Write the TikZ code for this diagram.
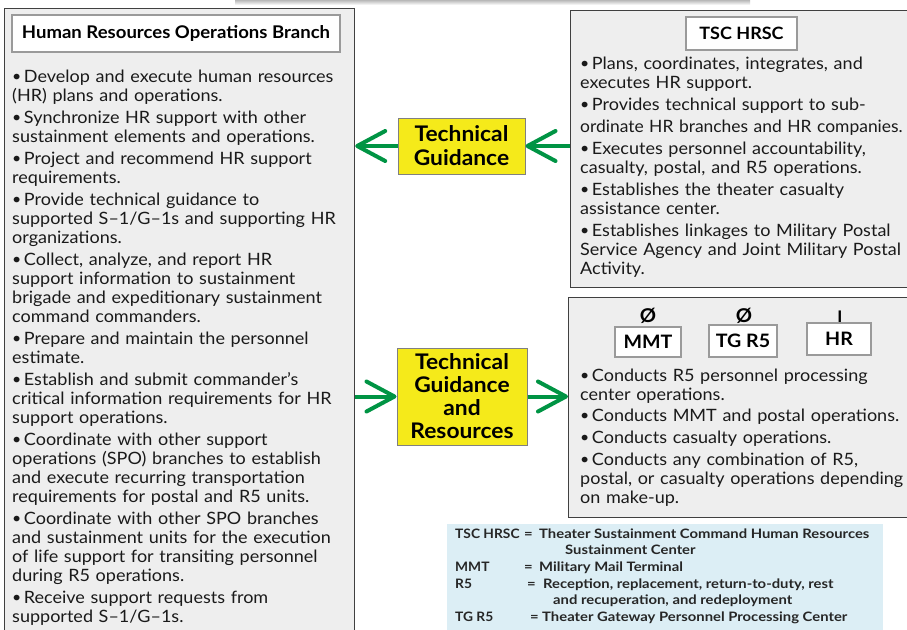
\documentclass[tikz,border=0pt]{standalone}
\usepackage{fontspec}
\usepackage{graphicx}
\setmainfont{Lato}[FakeStretch=1.06]
\newfontfamily\legfont{Lato}[FakeStretch=1.14]
\usetikzlibrary{arrows.meta}
\definecolor{panelfill}{HTML}{EEEEEE}
\definecolor{gline}{HTML}{009444}
\definecolor{yel}{HTML}{F5EA1A}
\definecolor{legendbg}{HTML}{DCEEF5}
\definecolor{boxgray}{HTML}{9A9A9A}
\definecolor{txt}{HTML}{1A1A1A}
\newcommand{\bul}{\raisebox{1.5pt}{\fontsize{15}{15}\selectfont\textbullet}\hspace{2.5pt}}
\tikzset{
  panel/.style={draw=black!75, line width=1.2pt, fill=panelfill, anchor=north west, inner sep=0pt},
  titlebox/.style={draw=boxgray, line width=1.5pt, fill=white, inner sep=0pt, font=\fontsize{17.5}{18}\selectfont\bfseries},
  unitbox/.style={draw=boxgray, line width=1.2pt, fill=white, inner sep=0pt, font=\fontsize{18.5}{19}\selectfont\bfseries},
  yelbox/.style={draw=gray, line width=1pt, fill=yel, inner sep=0pt, align=center},
  bodytext/.style={anchor=north west, inner sep=0pt, align=left, text=txt, font=\fontsize{17}{19}\selectfont},
  legtext/.style={anchor=base west, inner sep=0pt, text=black!85, font=\legfont\fontsize{13}{14}\selectfont\bfseries},
  legterm/.style={anchor=base west, inner sep=0pt, text=black!85, font=\fontsize{13}{14}\selectfont\bfseries},
  sym/.style={inner sep=0pt, font=\fontsize{19}{19}\selectfont\bfseries},
  garrow/.style={draw=gline, line width=4pt, -{Straight Barb[length=28pt,width=30pt,round]}}
}
\begin{document}
\begin{tikzpicture}[x=1pt,y=-1pt]
\useasboundingbox (0,0) rectangle (907,629);
\fill[white] (0,0) rectangle (907,629);
\fill[top color=black!28, bottom color=white] (235,0) rectangle (750,5);

% panels
\node[panel, minimum width=350, minimum height=640] (hrob) at (4,8) {};
\node[panel, minimum width=360, minimum height=277] (tsc) at (570,10) {};
\node[panel, minimum width=360, minimum height=220] (unit) at (568,297) {};
\node[anchor=north west, fill=legendbg, inner sep=0pt, minimum width=436, minimum height=120] (legend) at (447,524) {};

% titles
\node[titlebox, minimum width=328, minimum height=37] (hrtitle) at (176,33.5) {Human Resources Operations Branch};
\node[titlebox, minimum width=111, minimum height=33, font=\fontsize{17}{18}\selectfont\bfseries] (tsctitle) at (741.5,33.5) {TSC HRSC};

% unit boxes
\node[unitbox, minimum width=66, minimum height=30] (mmt) at (648,342) {MMT};
\node[unitbox, minimum width=68, minimum height=32] (tgr) at (743,341) {TG R5};
\node[unitbox, minimum width=64, minimum height=32] (hr) at (839,339) {HR};
\node[sym] (s1) at (648,316) {Ø};
\node[sym] (s2) at (744,316) {Ø};
\node[sym, font=\fontsize{16}{16}\selectfont\bfseries] (s3) at (840,317) {I};

% body text
\node[bodytext, text width=345] (lt) at (12,70) {%
\bul Develop and execute human resources\\
(HR) plans and operations.\\[3pt]
\bul Synchronize HR support with other\\
sustainment elements and operations.\\[3pt]
\bul Project and recommend HR support\\
requirements.\\[3pt]
\bul Provide technical guidance to\\
supported S–1/G–1s and supporting HR\\
organizations.\\[3pt]
\bul Collect, analyze, and report HR\\
support information to sustainment\\
brigade and expeditionary sustainment\\
command commanders.\\[3pt]
\bul Prepare and maintain the personnel\\
estimate.\\[3pt]
\bul Establish and submit commander’s\\
critical information requirements for HR\\
support operations.\\[3pt]
\bul Coordinate with other support\\
operations (SPO) branches to establish\\
and execute recurring transportation\\
requirements for postal and R5 units.\\[3pt]
\bul Coordinate with other SPO branches\\
and sustainment units for the execution\\
of life support for transiting personnel\\
during R5 operations.\\[3pt]
\bul Receive support requests from\\
supported S–1/G–1s.};

\node[bodytext, text width=330] (rt) at (580,57) {%
\bul Plans, coordinates, integrates, and\\
executes HR support.\\[3pt]
\bul Provides technical support to sub-\\[3pt]
\scalebox{0.968}[1]{ordinate HR branches and HR companies.}\\[3pt]
\bul Executes personnel accountability,\\
casualty, postal, and R5 operations.\\[3pt]
\bul Establishes the theater casualty\\
assistance center.\\[3pt]
\bul Establishes linkages to Military Postal\\
Service Agency and Joint Military Postal\\
Activity.};

\node[bodytext, text width=340] (rb) at (580,369) {%
\bul Conducts R5 personnel processing\\
center operations.\\[2pt]
\bul Conducts MMT and postal operations.\\[3pt]
\bul Conducts casualty operations.\\[3pt]
\bul Conducts any combination of R5,\\
postal, or casualty operations depending\\
on make-up.};

% yellow boxes
\node[yelbox, minimum width=127, minimum height=56, font=\fontsize{21.5}{24}\selectfont\bfseries] (tg1) at (461.5,146) {Technical\\Guidance};
\node[yelbox, minimum width=130, minimum height=97, font=\fontsize{21.5}{23}\selectfont\bfseries] (tg2) at (462,396.5) {Technical\\Guidance\\and\\Resources};

% arrows
\draw[garrow] (tsc.west |- tg1.east) -- (tg1.east);
\draw[garrow] (tg1.west) -- (hrob.east |- tg1.west);
\draw[garrow] (hrob.east |- tg2.west) -- (tg2.west);
\draw[garrow] (tg2.east) -- (unit.west |- tg2.east);

% legend
\node[legterm] (l1a) at (455,538.5) {TSC HRSC};
\node[legtext] (l1b) at (524,538.5) {=};
\node[legtext] (l1c) at (539,538.5) {Theater Sustainment Command Human Resources};
\node[legtext] (l2c) at (565,554.5) {Sustainment Center};
\node[legterm] (l3a) at (455,571) {MMT};
\node[legtext] (l3b) at (524,571) {=};
\node[legtext] (l3c) at (539,571) {Military Mail Terminal};
\node[legterm] (l4a) at (455,588) {R5};
\node[legtext] (l4b) at (527,588) {=};
\node[legtext] (l4c) at (543,588) {Reception, replacement, return-to-duty, rest};
\node[legtext] (l5c) at (553,604) {and recuperation, and redeployment};
\node[legterm] (l6a) at (455,621) {TG R5};
\node[legtext] (l6b) at (530,621) {=};
\node[legtext] (l6c) at (542,621) {Theater Gateway Personnel Processing Center};
\end{tikzpicture}
\end{document}
